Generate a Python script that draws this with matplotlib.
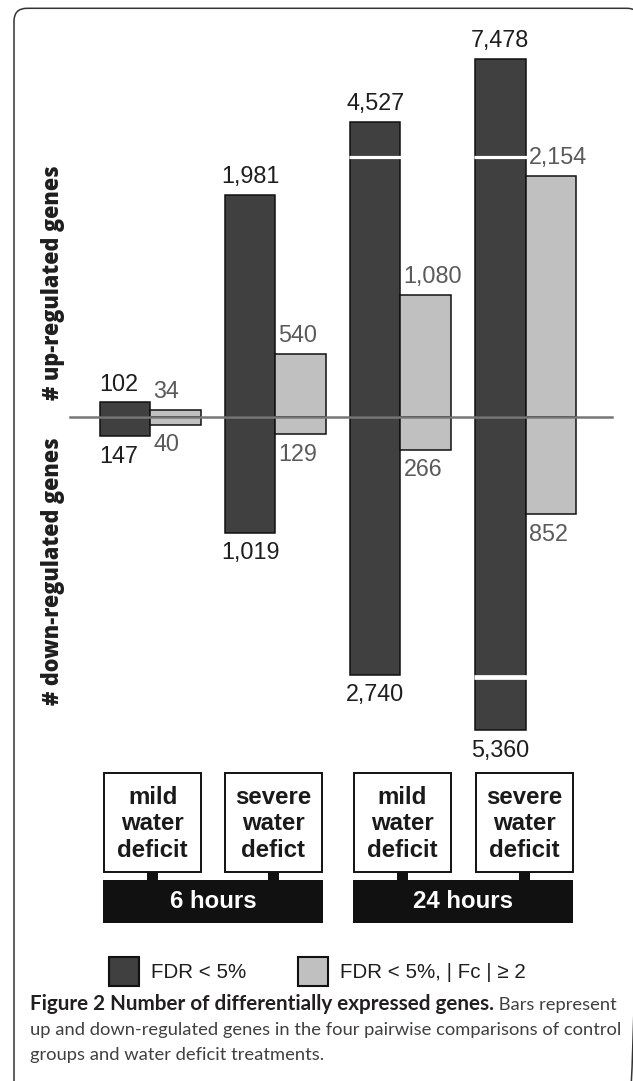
import numpy as np
import matplotlib
matplotlib.use("Agg")
import matplotlib.pyplot as plt
from matplotlib.patches import Rectangle, FancyBboxPatch

# ---------------- data ----------------
box_labels = ["mild\nwater\ndeficit", "severe\nwater\ndefict", "mild\nwater\ndeficit", "severe\nwater\ndeficit"]
time_labels = ["6 hours", "24 hours"]
up_fdr = [102, 1981, 4527, 7478]
up_fdr_fc = [34, 540, 1080, 2154]
down_fdr = [147, 1019, 2740, 5360]
down_fdr_fc = [40, 129, 266, 852]
legend_labels = ["FDR < 5%", "FDR < 5%, | Fc | \u2265 2"]
ylabel_up = "# up-regulated genes"
ylabel_down = "# down-regulated genes"
caption_bold = "Figure 2 Number of differentially expressed genes."
caption_line1_rest = " Bars represent"
caption_line2 = "up and down-regulated genes in the four pairwise comparisons of control"
caption_line3 = "groups and water deficit treatments."

# ---------------- style ----------------
W, H = 633, 1081
DARK, LIGHT = "#404040", "#c0c0c0"
EDGE = "#111111"
NUMFONT = "Liberation Sans"

fig = plt.figure(figsize=(W / 100, H / 100), dpi=100)

# compressed (broken) value scale, in pixel units
A0, A1, K, S = 3.25, 0.1104, 2200.0, 0.0212
fK = A0 + A1 * K
BIG = 1e6
kv = np.array([-BIG, -K, -1.0, 0.0, 1.0, K, BIG])
kf = np.array([-(fK + S * (BIG - K)), -fK, -(A0 + A1), 0.0, A0 + A1, fK, fK + S * (BIG - K)])
fwd = lambda v: np.interp(v, kv, kf)
inv = lambda u: np.interp(u, kf, kv)

ax_top_px, ax_bot_px, base_px = 0, 760, 417
ax = fig.add_axes([0, (H - ax_bot_px) / H, 1, (ax_bot_px - ax_top_px) / H])
ax.set_yscale("function", functions=(fwd, inv))
ax.set_ylim(inv(-(ax_bot_px - base_px)), inv(base_px - ax_top_px))
gx0, gstep = 150.2, 125.1
ax.set_xlim((0 - gx0) / gstep, (W - gx0) / gstep)
ax.axis("off")

x = np.arange(len(up_fdr))
w = 50.3 / gstep
ax.bar(x - w, up_fdr, w, align="edge", color=DARK, edgecolor=EDGE, lw=1.1, zorder=2)
ax.bar(x - w, [-v for v in down_fdr], w, align="edge", color=DARK, edgecolor=EDGE, lw=1.1, zorder=2)
ax.bar(x, up_fdr_fc, w, align="edge", color=LIGHT, edgecolor=EDGE, lw=1.1, zorder=2)
ax.bar(x, [-v for v in down_fdr_fc], w, align="edge", color=LIGHT, edgecolor=EDGE, lw=1.1, zorder=2)

# bar breaks
break_at = 2850
pad = 1.0 / gstep
for i in range(len(x)):
    if up_fdr[i] > break_at:
        ax.plot([x[i] - w - pad, x[i] + pad], [break_at, break_at], color="white", lw=2.3,
                solid_capstyle="butt", zorder=4)
    if down_fdr[i] > break_at:
        ax.plot([x[i] - w - pad, x[i] + pad], [-break_at, -break_at], color="white", lw=3.4,
                solid_capstyle="butt", zorder=4)

# zero line
ax.axhline(0, xmin=69.8 / W, xmax=612.4 / W, color="#777777", lw=1.8, zorder=5)

# value labels
NUMSIZE = 16.8
def vlabel(xd, v, color, ha, dx):
    txt = f"{abs(v):,}"
    if v > 0:
        ax.annotate(txt, (xd, v), xytext=(dx, 8.6), textcoords="offset points", ha=ha,
                    va="baseline", fontsize=NUMSIZE, family=NUMFONT, color=color, zorder=6)
    else:
        ax.annotate(txt, (xd, v), xytext=(dx, -6.3), textcoords="offset points", ha=ha,
                    va="top", fontsize=NUMSIZE, family=NUMFONT, color=color, zorder=6)

for i in range(len(x)):
    for v in (up_fdr[i], -down_fdr[i]):
        if abs(v) >= 1000:
            vlabel(x[i] - w / 2, v, "#1e1e1e", "center", 0)
        else:
            vlabel(x[i] - w, v, "#1e1e1e", "left", -0.5)
    for v in (up_fdr_fc[i], -down_fdr_fc[i]):
        vlabel(x[i], v, "#5a5a5a", "left", 2.2)

# ---------------- overlay in pixel coords ----------------
ov = fig.add_axes([0, 0, 1, 1])
ov.set_xlim(0, W)
ov.set_ylim(H, 0)
ov.axis("off")
ov.patch.set_alpha(0)

# frame
ov.add_patch(FancyBboxPatch((14, 8.3), 640 - 14, 1120 - 8.3,
                            boxstyle="round,pad=0,rounding_size=13", fill=False,
                            ec="#333333", lw=1.1))

# y labels
yl_up = ov.text(53, 282.5, ylabel_up, rotation=90, ha="center", va="center",
                family="Open Sans", weight="heavy", fontsize=13, color="#1e1e1e")
yl_dn = ov.text(53, 571.5, ylabel_down, rotation=90, ha="center", va="center",
                family="Open Sans", weight="heavy", fontsize=13, color="#1e1e1e")

# condition boxes
box_cx = [152.6, 273.2, 402.4, 524.3]
box_w, box_top, box_bot = 97, 772.7, 872.3
for cx, lab in zip(box_cx, box_labels):
    ov.add_patch(Rectangle((cx - box_w / 2, box_top), box_w, box_bot - box_top,
                           fc="white", ec=EDGE, lw=1.4))
    ov.text(cx, (box_top + box_bot) / 2 + 1.5, lab, ha="center", va="center",
            family=NUMFONT, weight="bold", fontsize=17.3, color="#1a1a1a", linespacing=1.2)
    ov.add_patch(Rectangle((cx - 5.5, box_bot), 11, 8, fc="#111111", ec="none"))

# time bars
time_x = [(103, 323), (353.3, 573.3)]
for (x0, x1), lab in zip(time_x, time_labels):
    ov.add_patch(Rectangle((x0, 880), x1 - x0, 43.3, fc="#111111", ec="none"))
    ov.text((x0 + x1) / 2, 902, lab, ha="center", va="center", family=NUMFONT,
            weight="bold", fontsize=17.3, color="white")

# legend
leg = [(109, DARK, 151.4), (297.5, LIGHT, 340.3)]
for (lx, col, tx), lab in zip(leg, legend_labels):
    ov.add_patch(Rectangle((lx, 956.7), 30, 29.3, fc=col, ec=EDGE, lw=1.5))
    ov.text(tx, 972, lab, ha="left", va="center", family=NUMFONT, fontsize=14.8,
            color="#1e1e1e")

# caption
CAPFONT = "Lato"
c1 = ov.text(30.3, 1010, caption_bold, ha="left", va="baseline", family=CAPFONT,
             weight="bold", fontsize=12, color="#231f20")
c2 = ov.text(30.3, 1035, caption_line2, ha="left", va="baseline", family=CAPFONT,
             fontsize=12, color="#404040")
c3 = ov.text(30.3, 1060, caption_line3, ha="left", va="baseline", family=CAPFONT,
             fontsize=12, color="#404040")

fig.canvas.draw()
r = fig.canvas.get_renderer()

def fit(t, target, vertical=False):
    for _ in range(3):
        bb = t.get_window_extent(r)
        cur = bb.height if vertical else bb.width
        t.set_fontsize(t.get_fontsize() * target / cur)

fit(yl_up, 235, vertical=True)
yl_dn.set_fontsize(yl_up.get_fontsize())
fit(c2, 589)
cs = c2.get_fontsize()
c3.set_fontsize(cs)
fit(c1, 462)
fig.canvas.draw()
bb1 = c1.get_window_extent(r)
ov.text(bb1.x1, 1010, caption_line1_rest, ha="left", va="baseline", family=CAPFONT,
        fontsize=cs, color="#404040")

fig.savefig("out.png", dpi=100)
